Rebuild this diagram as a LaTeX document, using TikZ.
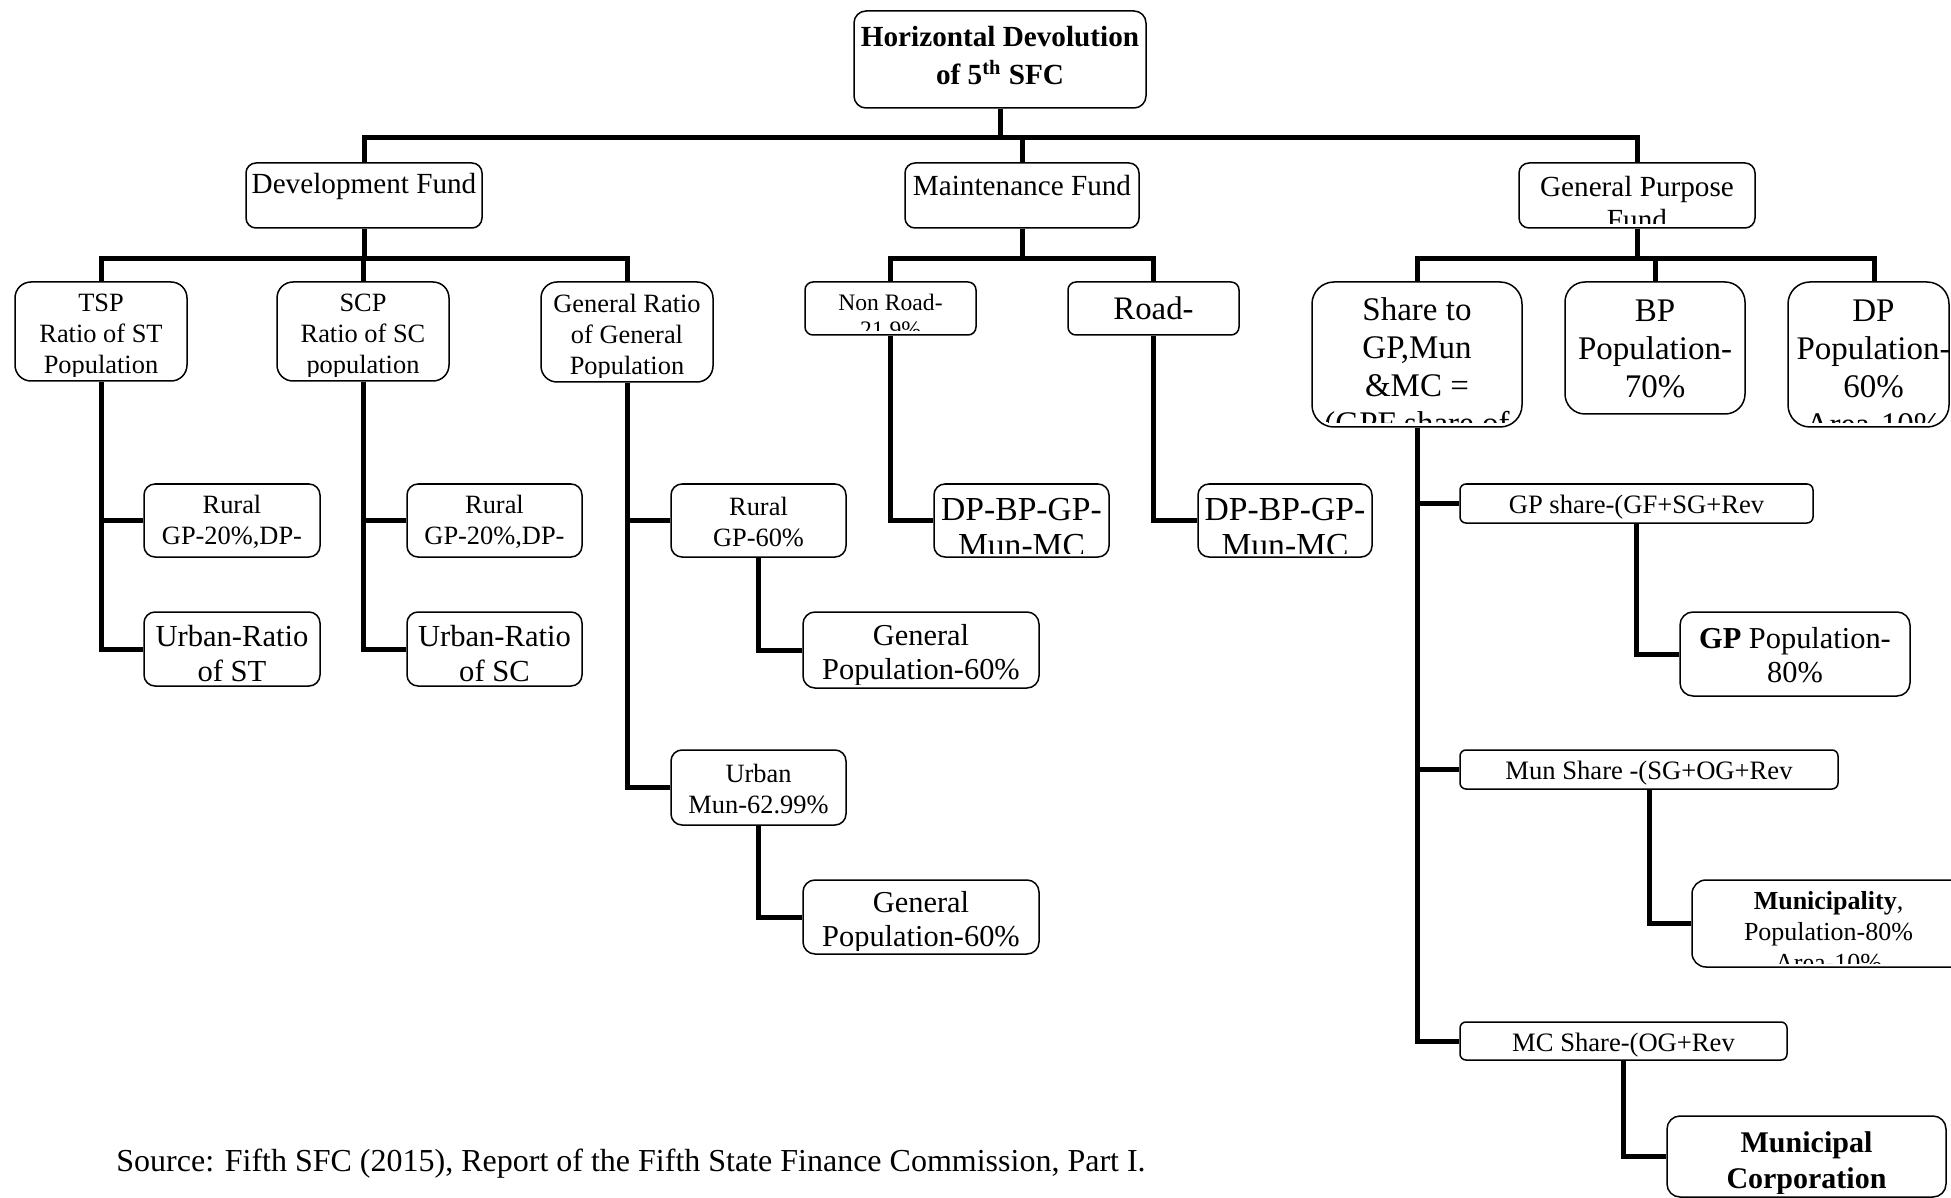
\documentclass[tikz,border=0pt]{standalone}
\usepackage{fontspec}
\setmainfont{Liberation Serif}
\newcommand\fsz[2]{\fontsize{#1}{#2}\selectfont}
\tikzset{
  bx/.style={draw, line width=0.75pt, inner sep=0pt},
  conn/.style={line width=2.5pt},
  txt/.style={align=center, inner sep=0pt}
}
% name, x1, y1, x2, y2, corner radius, text shift, font, text
\newcommand\Bx[9]{%
  \node[bx, rounded corners=#6, minimum width={(#4-#2)*0.5pt}, minimum height={(#5-#3)*0.5pt},
    path picture={\clip (path picture bounding box.north west) rectangle ([yshift=2pt]path picture bounding box.south east);
      \node[txt,font=#8] at ([yshift=-1.2pt,#7]path picture bounding box.center) {#9};}]
    (#1) at ({(#2+#4)/2},{(#3+#5)/2}) {};}
\begin{document}
\begin{tikzpicture}[x=0.5pt, y=-0.5pt]
\useasboundingbox (0,0) rectangle (1951,1198);
\clip (0,0) rectangle (1951,1198);

% level 0
\Bx{root}{854}{11}{1146}{108}{6pt}{yshift=3.2pt}{\fsz{14.6}{19}\bfseries}{Horizontal Devolution\\of 5\textsuperscript{th} SFC}
% level 1
\Bx{dev}{246}{163}{482}{228}{5pt}{yshift=5.5pt}{\fsz{14.6}{16.8}}{Development Fund}
\Bx{maint}{905}{163}{1139}{228}{5pt}{yshift=6pt}{\fsz{14.6}{16.8}}{Maintenance Fund}
\Bx{gpf}{1519}{163}{1755}{228}{5pt}{yshift=-2.5pt}{\fsz{14.6}{16.8}}{General Purpose\\Fund}
% level 2
\Bx{tsp}{15}{282}{187}{381}{8pt}{yshift=-1.5pt}{\fsz{13.2}{15.5}}{TSP\\Ratio of ST\\Population}
\Bx{scp}{277}{282}{449}{381}{8pt}{yshift=-1.5pt}{\fsz{13.2}{15.5}}{SCP\\Ratio of SC\\population}
\Bx{genr}{541}{282}{713}{382}{8pt}{yshift=-1.5pt}{\fsz{13.2}{15.5}}{General Ratio\\of General\\Population}
\Bx{nonroad}{805}{282}{976}{335}{4pt}{yshift=-2.5pt}{\fsz{11.8}{13.7}}{Non Road-\\21.9\%}
\Bx{road}{1068}{282}{1239}{335}{4pt}{yshift=1.5pt}{\fsz{16.4}{19}}{Road-}
\Bx{share}{1312}{282}{1522}{427}{11pt}{yshift=-6.5pt}{\fsz{16.5}{19}}{Share to\\GP,Mun\\\&MC =\\(GPF share of}
\Bx{bp}{1565}{282}{1745}{414}{10pt}{yshift=0.5pt}{\fsz{16.5}{19}}{BP\\Population-\\70\%}
\Bx{dp}{1788}{282}{1949}{427}{11pt}{xshift=2.5pt,yshift=-5.5pt}{\fsz{16.5}{19}}{DP\\Population-\\60\%\\Area-10\%}
% level 3 : development fund
\Bx{rurt}{144}{484}{320}{557}{5.5pt}{yshift=0.5pt}{\fsz{13.2}{15.5}}{Rural\\GP-20\%,DP-}
\Bx{urst}{144}{612}{320}{686}{5.5pt}{yshift=-1.2pt}{\fsz{15.3}{17.4}}{Urban-Ratio\\of ST}
\Bx{rurs}{407}{484}{582}{557}{5.5pt}{yshift=0.5pt}{\fsz{13.2}{15.5}}{Rural\\GP-20\%,DP-}
\Bx{ursc}{407}{612}{582}{686}{5.5pt}{yshift=-1.2pt}{\fsz{15.3}{17.4}}{Urban-Ratio\\of SC}
\Bx{rurg}{671}{484}{846}{557}{5.5pt}{yshift=0.5pt}{\fsz{13.2}{15.5}}{Rural\\GP-60\%}
\Bx{gp1}{803}{612}{1039}{688}{6pt}{yshift=-1.4pt}{\fsz{15.2}{17.4}}{General\\Population-60\%}
\Bx{urbm}{671}{750}{846}{825}{5.5pt}{yshift=0.2pt}{\fsz{13.2}{15.5}}{Urban\\Mun-62.99\%}
\Bx{gp2}{803}{880}{1039}{954}{6pt}{yshift=-1.4pt}{\fsz{15.2}{17.4}}{General\\Population-60\%}
% level 3 : maintenance fund
\Bx{dpbp1}{934}{484}{1109}{557}{5.5pt}{yshift=-2.3pt}{\fsz{16.8}{18}}{DP-BP-GP-\\Mun-MC}
\Bx{dpbp2}{1198}{484}{1372}{557}{5.5pt}{yshift=-2.3pt}{\fsz{16.8}{18}}{DP-BP-GP-\\Mun-MC}
% level 3 : general purpose fund
\Bx{gps}{1460}{484}{1813}{523}{3pt}{yshift=-0.8pt}{\fsz{13.3}{15.5}}{GP share-(GF+SG+Rev}
\Bx{gppop}{1680}{612}{1910}{696}{6.5pt}{yshift=0.6pt}{\fsz{15.2}{17.4}}{\textbf{GP} Population-\\80\%}
\Bx{muns}{1460}{750}{1838}{789}{3pt}{yshift=-0.8pt}{\fsz{13.3}{15.5}}{Mun Share -(SG+OG+Rev}
\Bx{munic}{1692}{880}{1965}{967}{7pt}{yshift=-3pt}{\fsz{13}{15.5}}{\textbf{Municipality},\\Population-80\%\\Area-10\%}
\Bx{mcs}{1460}{1022}{1787}{1060}{3pt}{yshift=-0.8pt}{\fsz{13.3}{15.5}}{MC Share-(OG+Rev}
\Bx{mccorp}{1667}{1116}{1946}{1197}{6.5pt}{yshift=-2pt}{\fsz{15}{18}\bfseries}{Municipal\\Corporation}

% source
\node[anchor=west, inner sep=0pt, font=\fsz{16}{19}] (src) at (116,1164) {Source: Fifth SFC (2015), Report of the Fifth State Finance Commission, Part I.};

% buses
\coordinate (b1) at (0,138);
\coordinate (b2) at (0,259);
\draw[conn] (root.south) -- (root.south |- b1);
\draw[conn] (dev.north) -- (dev.north |- b1) -- (gpf.north |- b1) -- (gpf.north);
\draw[conn] (maint.north) -- (maint.north |- b1);

\draw[conn] (dev.south) -- (dev.south |- b2);
\draw[conn] (tsp.north) -- (tsp.north |- b2) -- (genr.north |- b2) -- (genr.north);
\draw[conn] (scp.north) -- (scp.north |- b2);
\draw[conn] (maint.south) -- (maint.south |- b2);
\draw[conn] (nonroad.north) -- (nonroad.north |- b2) -- (road.north |- b2) -- (road.north);
\draw[conn] (gpf.south) -- (gpf.south |- b2);
\draw[conn] (share.north) -- (share.north |- b2) -- ([xshift=3pt]dp.north |- b2) -- ([xshift=3pt]dp.north);
\draw[conn] (bp.north) -- (bp.north |- b2);

% children
\draw[conn] (tsp.south) |- (urst.west);
\draw[conn] (tsp.south |- rurt.west) -- (rurt.west);
\draw[conn] (scp.south) |- (ursc.west);
\draw[conn] (scp.south |- rurs.west) -- (rurs.west);
\draw[conn] (genr.south) |- (urbm.west);
\draw[conn] (genr.south |- rurg.west) -- (rurg.west);
\draw[conn] (rurg.south) |- (gp1.west);
\draw[conn] (urbm.south) |- (gp2.west);
\draw[conn] (nonroad.south) |- (dpbp1.west);
\draw[conn] (road.south) |- (dpbp2.west);
\draw[conn] (share.south) |- (mcs.west);
\draw[conn] (share.south |- gps.west) -- (gps.west);
\draw[conn] (share.south |- muns.west) -- (muns.west);
\draw[conn] (gps.south) |- (gppop.west);
\draw[conn] (muns.south) |- (munic.west);
\draw[conn] (mcs.south) |- (mccorp.west);
\end{tikzpicture}
\end{document}
